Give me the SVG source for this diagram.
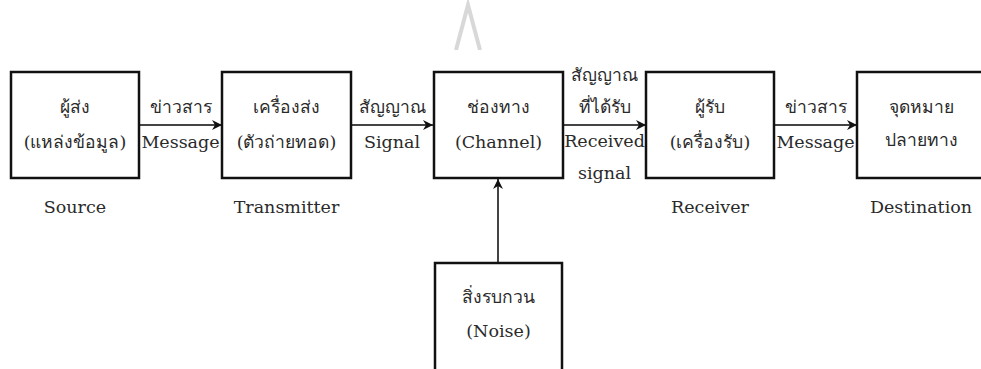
<svg xmlns="http://www.w3.org/2000/svg" width="981" height="369" viewBox="0 0 981 369">
<style>
.box{fill:#fff;stroke:#111;stroke-width:2.5}
.t{font-family:"DejaVu Serif","Liberation Serif",serif;font-size:17.5px;fill:#2a2a2a;text-anchor:middle}
.c{stroke:#444;stroke-width:2;fill:none}
</style>
<defs>
<marker id="ah" viewBox="0 0 10 10" refX="10" refY="5" markerWidth="11" markerHeight="10" markerUnits="userSpaceOnUse" orient="auto">
<path d="M0,0 L10,5 L0,10 L3,5 Z" fill="#111"/>
</marker>
</defs>
<rect width="981" height="369" fill="#fff"/>
<path d="M456,50 L468,5 L480,50" fill="none" stroke="#d8d8d8" stroke-width="4"/>
<rect x="450" y="50" width="40" height="20" fill="#fff"/>
<g id="connectors">
<line class="c" x1="139" y1="125" x2="222" y2="125" marker-end="url(#ah)"/>
<line class="c" x1="351" y1="125" x2="433" y2="125" marker-end="url(#ah)"/>
<line class="c" x1="563" y1="125" x2="646" y2="125" marker-end="url(#ah)"/>
<line class="c" x1="774" y1="125" x2="857" y2="125" marker-end="url(#ah)"/>
<line class="c" x1="498" y1="263" x2="498" y2="179" marker-end="url(#ah)"/>
<text class="t" x="180.5" y="113">ข่าวสาร</text>
<text class="t" x="180.5" y="148">Message</text>
<text class="t" x="392" y="113">สัญญาณ</text>
<text class="t" x="392" y="148">Signal</text>
<text class="t" x="604.5" y="81">สัญญาณ</text>
<text class="t" x="604.5" y="113">ที่ได้รับ</text>
<text class="t" x="604.5" y="147">Received</text>
<text class="t" x="604.5" y="179">signal</text>
<text class="t" x="815.5" y="113">ข่าวสาร</text>
<text class="t" x="815.5" y="148">Message</text>
</g>
<g id="source">
<rect class="box" x="11" y="72" width="128" height="106"/>
<text class="t" x="75" y="113">ผู้ส่ง</text>
<text class="t" x="75" y="148">(แหล่งข้อมูล)</text>
<text class="t" x="75" y="213">Source</text>
</g>
<g id="transmitter">
<rect class="box" x="222" y="72" width="129" height="106"/>
<text class="t" x="286.5" y="113">เครื่องส่ง</text>
<text class="t" x="286.5" y="148">(ตัวถ่ายทอด)</text>
<text class="t" x="286.5" y="213">Transmitter</text>
</g>
<g id="channel">
<rect class="box" x="434" y="72" width="129" height="106"/>
<text class="t" x="498.5" y="113">ช่องทาง</text>
<text class="t" x="498.5" y="148">(Channel)</text>
</g>
<g id="receiver">
<rect class="box" x="646" y="72" width="128" height="106"/>
<text class="t" x="710" y="113">ผู้รับ</text>
<text class="t" x="710" y="148">(เครื่องรับ)</text>
<text class="t" x="710" y="213">Receiver</text>
</g>
<g id="destination">
<rect class="box" x="857" y="72" width="140" height="106"/>
<text class="t" x="921" y="113">จุดหมาย</text>
<text class="t" x="921" y="146">ปลายทาง</text>
<text class="t" x="921" y="213">Destination</text>
</g>
<g id="noise">
<rect class="box" x="435" y="263" width="127" height="120"/>
<text class="t" x="498.5" y="303">สิ่งรบกวน</text>
<text class="t" x="498.5" y="337">(Noise)</text>
</g>
</svg>
